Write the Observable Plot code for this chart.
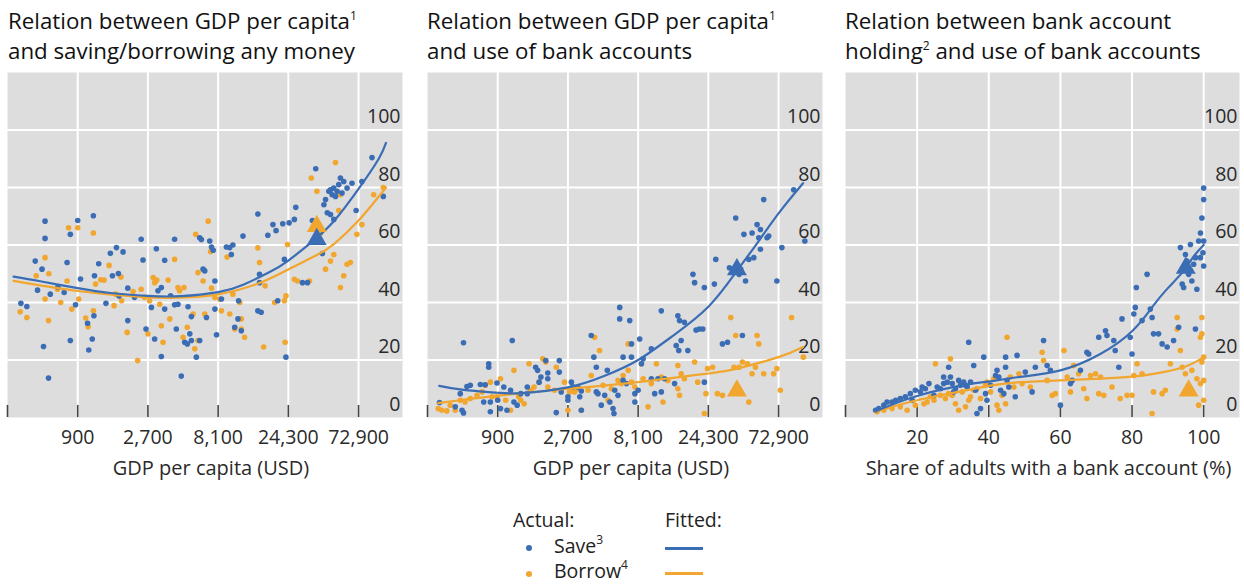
<!DOCTYPE html>
<html><head><meta charset="utf-8">
<script src="https://cdn.jsdelivr.net/npm/d3@7"></script>
<script src="https://cdn.jsdelivr.net/npm/@observablehq/plot@0.6"></script>
<style>
body{margin:0;background:#fff;font-family:"Open Sans",sans-serif;color:#1a1a1a}
#wrap{position:relative;width:1244px;height:586px;overflow:hidden}
.title{position:absolute;top:6px;font-size:22.3px;line-height:30px;white-space:nowrap;color:#111}
.title sup,.leg sup{font-size:12px;line-height:0;vertical-align:9px}
.panel{position:absolute;top:60px}
.leg{position:absolute;font-size:19.5px;line-height:18px;white-space:nowrap;color:#222}
.dot{position:absolute;width:6px;height:6px;border-radius:50%}
.ln{position:absolute;height:2.5px;width:38px}
</style>
</head><body>
<div id="wrap">
  <div class="title" style="left:8px">Relation between GDP per capita<sup>1</sup><br>and saving/borrowing any money</div>
  <div class="title" style="left:427px">Relation between GDP per capita<sup>1</sup><br>and use of bank accounts</div>
  <div class="title" style="left:845px">Relation between bank account<br>holding<sup>2</sup> and use of bank accounts</div>
  <div id="p1" class="panel" style="left:0px"></div>
  <div id="p2" class="panel" style="left:420px"></div>
  <div id="p3" class="panel" style="left:838px"></div>
  <div class="leg" style="left:513px;top:511px">Actual:</div>
  <div class="leg" style="left:665px;top:511px">Fitted:</div>
  <div class="dot" id="dSave" style="left:526px;top:545px"></div>
  <div class="leg" style="left:554px;top:537px">Save<sup>3</sup></div>
  <div class="ln" id="lSave" style="left:665px;top:547px"></div>
  <div class="dot" id="dBorrow" style="left:526px;top:571px"></div>
  <div class="leg" style="left:554px;top:562px">Borrow<sup>4</sup></div>
  <div class="ln" id="lBorrow" style="left:665px;top:572px"></div>
</div>
<script>
const BLUE = "#3b6db5", ORANGE = "#f1a62f";

// ---- shared axes ----
const yTicks = [0, 20, 40, 60, 80, 100];
const gdpDomain = [300, 145000];
const gdpTicks = [900, 2700, 8100, 24300, 72900];
const gdpTickLabels = ["900", "2,700", "8,100", "24,300", "72,900"];
const shareDomain = [0, 110];
const shareTicks = [20, 40, 60, 80, 100];
const shareTickLabels = ["20", "40", "60", "80", "100"];
const gdpLabel = "GDP per capita (USD)";
const shareLabel = "Share of adults with a bank account (%)";

// ---- panel 1: GDP per capita vs saving / borrowing ----
const p1Save = [[370,39.7],[406,38.6],[463,54.4],[480,44.3],[515,51.6],[540,68.3],[540,62.3],[586,42.9],[527,24.7],[570,13.7],[660,45.4],[728,43.5],[762,53.9],[802,63.7],[900,68.5],[802,26.8],[870,39.2],[940,48.2],[1050,32.8],[1070,23.5],[1130,27.3],[1150,70.2],[1160,35.4],[1170,49.3],[1250,53.5],[1400,39.7],[1500,57.1],[1550,49.3],[1650,59.1],[1700,50.1],[1720,42.3],[1830,57.6],[1970,45],[1970,33.7],[2190,41.8],[2430,62],[2500,54.8],[2620,30.8],[2850,38.3],[3000,27.3],[3080,58.7],[3160,44.1],[3330,45.2],[3330,21.2],[3510,54.7],[3510,37.7],[3850,42.3],[4100,62],[4100,39.2],[4210,30.8],[4320,39.4],[4550,14.4],[4800,26.2],[5000,25.6],[5060,38.5],[5330,35.1],[5200,29.1],[5330,26.8],[5760,21],[6070,62.5],[6230,61.9],[6400,51.6],[6570,51],[6750,34.8],[6070,26.8],[7100,61.4],[7300,59.3],[7500,58.2],[7700,47.5],[7700,37.7],[7900,28.8],[8530,41.2],[9220,59.3],[9710,59.1],[9960,56.7],[10200,60],[10500,31.4],[11050,34.3],[11150,40.6],[11640,30.2],[11950,63.1],[15080,70.8],[15480,49.8],[15080,37.1],[15880,36.6],[15480,46.9],[17630,63.4],[19100,67.1],[20050,65],[20580,40.6],[22270,67.4],[22840,55],[23400,21],[24600,67.7],[26700,68.9],[27300,73.1],[30300,46.9],[32800,46.9],[37300,86.5],[41400,57],[42400,74],[43500,75.8],[45800,78.7],[47000,79.2],[48200,77.5],[49500,79.8],[50800,76.9],[52100,78.7],[53500,81],[54900,83.3],[56300,78.1],[57800,82.1],[60900,79.8],[65800,81.5],[70200,72],[76800,82.1],[90000,90.4],[107400,76.9],[49500,68.9],[44700,71.2],[47000,70.6],[35400,68.5]];
const p1Borrow = [[366,36.8],[406,34.8],[470,49.3],[540,55.6],[573,50],[540,41.2],[570,33.7],[655,44.6],[690,40],[762,47.5],[780,66],[900,66],[820,37.7],[915,41.2],[1020,34.6],[1060,31.6],[1150,64.2],[1150,37.1],[1190,46.4],[1290,47.9],[1360,47.8],[1470,52.9],[1630,42.9],[1590,38.9],[1770,48.9],[1790,40.6],[1950,29.6],[2140,43.8],[2300,19.8],[2430,44.6],[2560,41.8],[2700,29.1],[2770,40.6],[2930,48.7],[3000,46.9],[3100,47.8],[3250,39.4],[3330,31.9],[3420,26.2],[3700,47.8],[3800,34.3],[4100,55],[4320,45.2],[4430,44.1],[4680,27.9],[4750,45.2],[5000,31.4],[5470,36],[5620,23.9],[5700,63.7],[5910,50.4],[6400,47.5],[6570,36],[5910,26.8],[6930,68.3],[7200,57.7],[7300,45],[7700,41.8],[8300,41.2],[8530,37.1],[9320,55.8],[10200,42.9],[9710,36],[10500,30.8],[11350,40],[11640,30.8],[11640,34.3],[12250,27.9],[15080,59],[15480,53.9],[16900,45.8],[19600,40],[16500,24.5],[22840,40.6],[23400,42.3],[23100,26.2],[24000,60.2],[26700,48.1],[28000,47.5],[33800,47.5],[34800,83.3],[38000,78.7],[50800,88.7],[54900,77.5],[53500,72],[92400,77.5],[107400,80],[76800,67.1],[71000,63.7],[64100,53.9],[60900,53.3],[54900,45.2],[57800,49.3],[49500,56.7],[43500,51.6],[47000,54.4],[40300,64.2]];
const p1SaveFit = [[330,49],[500,47.4],[900,45],[1500,43.3],[2700,42.3],[4500,42.2],[8100,43.6],[12000,46.2],[18000,50.5],[24300,54.6],[36000,61.5],[50000,68.5],[72900,79.5],[100000,90],[112000,95.5]];
const p1BorrowFit = [[330,47.5],[900,44],[2700,41.8],[5000,41.8],[8100,42.8],[15000,46.5],[24300,51.5],[38000,56.5],[50000,60.5],[72900,68.5],[112000,80]];
const p1SaveTri = [[37900,62]];
const p1BorrowTri = [[37900,66.5]];

// ---- panel 2: GDP per capita vs use of bank accounts ----
const p2Save = [[527,26],[362,5.2],[463,3.7],[515,2.5],[527,1.6],[501,8.3],[556,10.8],[586,11.2],[686,11.5],[740,11.4],[782,17.5],[782,18.7],[723,5.4],[802,5.4],[802,2],[890,12],[900,6],[940,3.1],[990,10.6],[1040,2.5],[1100,9.5],[1130,26.8],[1160,5.4],[1220,4.3],[1290,8.3],[1430,8.3],[1430,10.6],[1630,17.5],[1680,16.4],[1720,12.3],[1770,14.1],[1910,19.8],[1970,15.5],[1970,13.5],[2250,1.7],[2360,19.8],[2360,15.8],[2430,8.9],[2700,6],[2700,7.2],[2850,12.3],[2930,10.6],[3160,10.6],[3250,7.2],[3330,9.2],[3330,2.5],[3890,28.5],[4050,21],[4210,17.5],[4210,8.9],[4320,8.3],[4550,4.3],[4800,7.7],[5000,16.4],[5200,5.4],[5470,3.1],[5550,1.4],[5620,9.5],[5910,7.7],[6070,38.3],[6070,34.3],[6400,21],[6400,12.9],[6750,11.8],[7100,33.7],[7300,21],[7300,25.6],[7700,8.3],[7700,5.4],[8100,9.5],[8300,27.3],[8530,18.7],[8760,20.4],[9960,23.9],[9960,13.5],[10500,8.3],[11050,13.5],[11640,37.1],[11640,8.9],[12250,13.5],[14330,11.8],[14700,25],[15080,35.4],[15300,23.3],[15480,33.7],[15880,26.8],[16700,33.1],[17630,23.3],[19100,49.8],[19600,46.9],[20050,30.4],[21100,30.8],[22270,30.8],[22840,12.3],[22840,45.2],[26700,46.4],[27300,55],[30300,25.6],[32800,26.2],[33800,52.1],[37300,69.4],[39300,49.8],[40300,51.6],[41400,28.5],[42400,63.7],[43500,47.5],[45800,55],[48200,64.2],[49500,55.6],[52100,67.1],[53500,62.5],[54900,58.5],[57800,75.8],[60900,62.5],[62500,63.1],[71000,47.5],[76800,59.1],[92400,79.2],[110000,61.4],[54900,65.4]];
const p2Borrow = [[355,3.1],[375,2.5],[406,2.3],[428,4.3],[463,2.5],[501,6],[540,5.4],[586,6.6],[651,7.7],[705,8.9],[740,11.2],[802,12.3],[823,7.2],[890,7.2],[940,13.5],[1020,6],[1100,2.5],[1160,16.4],[1250,7.2],[1290,6],[1360,4.8],[1470,18.7],[1510,9.5],[1590,10.6],[1720,12.3],[1820,20.4],[1910,19.3],[1970,10.6],[2190,9.5],[2250,17.5],[2560,12.3],[2700,2.5],[2770,8.9],[3000,8.9],[3160,10],[3330,2.5],[3700,9.5],[3890,14.6],[4100,27.9],[4430,23.3],[4680,11.2],[5060,6],[5330,10],[5910,12.9],[6230,11.8],[6400,14.6],[6930,25.6],[6930,16.4],[7300,12.3],[7700,10.6],[8530,18.7],[8760,13.5],[9470,3.7],[9960,11.8],[10780,18.7],[11640,14.1],[11950,5.4],[12900,12.9],[15080,10],[15080,18.1],[15480,7.7],[15880,15.2],[16700,13.5],[19600,19.3],[20580,12.3],[22840,1.4],[23400,8.3],[24000,17],[26000,17.5],[28000,8.3],[30300,7.7],[34500,34.8],[36300,17.5],[37300,28.5],[39300,17.5],[41400,19.3],[44700,18.7],[45800,5.4],[48200,15.2],[50800,17.5],[52100,28.5],[53500,25.6],[57800,15.2],[67500,15.2],[71000,17],[75000,9.5],[89400,34.8],[107400,21]];
const p2SaveFit = [[360,11],[527,9.6],[900,8.6],[1300,8.5],[2700,10.5],[4800,14.5],[8100,20],[13600,28],[24300,38.5],[38000,51],[49500,59],[72900,71],[107000,81.5]];
const p2BorrowFit = [[355,5],[900,7.6],[2700,10],[8100,12.3],[24300,15.3],[38000,17],[72900,21],[107000,24.5]];
const p2SaveTri = [[38000,51.5]];
const p2BorrowTri = [[38000,9.3]];

// ---- panel 3: bank account holding vs use of bank accounts ----
const p3Save = [[8.4,2.5],[9.3,3.1],[10.7,4.3],[11.6,5.4],[13,5.4],[14,6],[15.3,6.6],[16.7,7.2],[18.1,8.3],[18.6,6],[19.5,9.5],[20.9,8.9],[21.4,10.6],[22.3,10],[23.3,11.8],[24.7,7.7],[25.6,10.6],[26.5,10],[27.4,11.8],[27.4,14.1],[28.4,12.3],[28.8,17.5],[29.3,14.1],[29.8,11.8],[30.2,8.9],[30.7,10],[31.6,12.9],[32.1,11.2],[32.6,11.8],[33,12.3],[33.5,11.2],[34,10.6],[34.4,26.2],[34.9,12.3],[35.8,18.1],[36.3,9.5],[36.7,1.4],[37.7,3.1],[38.6,21],[39.1,8.3],[39.5,6],[40.5,11.2],[41.9,14.6],[42.3,16.4],[42.8,14.1],[43.3,9.5],[44.2,8.3],[44.7,21],[44.7,17.5],[45.1,12.9],[45.6,10.6],[47.4,7.2],[47.9,21.6],[50.2,15.8],[52.1,8.9],[53,17.5],[55.3,26.8],[56.3,18.1],[57.2,16.4],[60,4.3],[62.8,11.8],[63.3,12.9],[65.6,16.4],[67.4,22.7],[67.9,22.1],[70.7,27.9],[72.6,30.2],[73,28.5],[74.9,26.8],[75.3,23.3],[76.3,17.5],[77.2,34.3],[79.5,27.9],[80,22.1],[80.5,36],[80.9,38.3],[81.2,45.2],[82.8,33.7],[84.2,49.8],[85.1,37.7],[85.6,34.8],[86,29.1],[87.4,29.1],[88.4,25.6],[89.8,24.5],[91.6,26.8],[93,31.4],[93.5,59.1],[94,46.4],[94.4,45.2],[94.9,56.7],[95.3,54.4],[95.8,49.8],[96.3,60.2],[96.7,47.5],[97.2,53.3],[97.7,55.6],[97.7,30.8],[98.1,44.6],[98.6,61.4],[99.1,55.6],[99.1,64.2],[99.5,69.4],[100,75.8],[100,79.8],[100,61.4],[99.8,57.3],[100,52.7]];
const p3Borrow = [[8.8,2],[10.7,2.5],[13,3.1],[15.3,3.7],[17.2,2.5],[19.5,4.3],[21.9,4.8],[22.8,5.4],[23.7,7.2],[24.7,6],[25.1,18.7],[26.5,7.7],[27.9,6.6],[28.8,8.3],[29.3,20.4],[29.8,7.7],[30.7,4.8],[31.6,2.5],[32.6,8.9],[33.5,3.7],[34.4,6],[34.9,7.2],[35.8,9.5],[36.7,10],[37.7,6.6],[39.1,11.2],[39.5,12.3],[40.5,8.9],[41.4,13.5],[42.3,4.3],[42.8,2.5],[43.7,7.7],[44.7,4.8],[45.1,27.9],[46,14.1],[47,10.6],[48.4,15.2],[49.3,11.8],[51.6,10.6],[54.9,22.7],[55.3,19.8],[56.3,12.9],[57.7,7.7],[58.6,8.3],[61,23.3],[61.9,14.1],[62.8,8.9],[63.7,18.1],[65.1,15.2],[66.5,10],[67.4,6.6],[68.4,14.6],[69.8,15.2],[70.7,8.3],[71.2,14.1],[72.1,7.7],[74.4,10.6],[76.7,6.6],[78.6,7.7],[80,7.7],[80.5,14.6],[81.4,18.7],[82.8,15.2],[85.6,1.4],[86,8.9],[88.4,8.3],[89.3,9.5],[90.7,18.7],[92.6,34.8],[92.6,30.8],[93.5,23.3],[94,17.5],[94.9,15.2],[96.7,16.4],[98.1,13.5],[98.6,4.3],[99.1,11.8],[99.1,27.9],[99.5,34.8],[99.5,29.1],[100,21],[99.5,19.3],[100,12.9],[100,6]];
const p3SaveFit = [[8.4,2.2],[20,7.5],[34,11.5],[40,12.5],[48,14],[60,16.4],[71,22],[80,30],[86,39],[90,45],[94.4,51],[97.2,56],[100,60]];
const p3BorrowFit = [[8.4,2],[20,6],[34,9.5],[40,11],[48,12.2],[60,12.9],[71,13.5],[80,14.2],[86,15.2],[94.4,17.5],[100,21]];
const p3SaveTri = [[95,52]];
const p3BorrowTri = [[95.8,9.3]];

function panel(o) {
  const ticks = o.xTicks.map((v, i) => ({v, label: o.xTickLabels[i]}));
  const tickMarks = [o.xDomain[0], ...o.xTicks];
  return Plot.plot({
    width: o.width, height: 427,
    marginTop: 12, marginBottom: 70, marginLeft: 7, marginRight: o.marginRight,
    x: {type: o.xType, domain: o.xDomain, axis: null},
    y: {domain: [0, 120], axis: null},
    style: {background: "transparent", fontFamily: "Open Sans, sans-serif", overflow: "visible"},
    marks: [
      Plot.frame({fill: "#dddddd", stroke: null}),
      Plot.gridX(o.xTicks, {stroke: "white", strokeOpacity: 1, strokeWidth: 2}),
      Plot.gridY(yTicks.slice(1), {stroke: "white", strokeOpacity: 1, strokeWidth: 2}),
      Plot.ruleX(tickMarks, {y1: 0, y2: 4.2, stroke: "#444", strokeWidth: 1.6}),
      Plot.text(yTicks, {y: d => d, text: d => String(d), frameAnchor: "right", textAnchor: "end", dx: -2, dy: -13, fontSize: 19.5, fill: "#2a2a2a"}),
      Plot.text(ticks, {x: "v", text: "label", frameAnchor: "bottom", lineAnchor: "middle", dy: 20, fontSize: 19.5, fill: "#2a2a2a"}),
      Plot.text([o.xLabel], {text: d => d, frameAnchor: "bottom", lineAnchor: "middle", dy: 51, dx: 6, fontSize: 20, fill: "#2a2a2a"}),
      Plot.dot(o.borrow, {x: d => d[0], y: d => d[1], r: 2.8, fill: ORANGE}),
      Plot.dot(o.save, {x: d => d[0], y: d => d[1], r: 2.8, fill: BLUE}),
      Plot.line(o.borrowFit, {x: d => d[0], y: d => d[1], stroke: ORANGE, strokeWidth: 2.2, curve: "natural"}),
      Plot.line(o.saveFit, {x: d => d[0], y: d => d[1], stroke: BLUE, strokeWidth: 2.2, curve: "natural"}),
      Plot.dot(o.borrowTri, {x: d => d[0], y: d => d[1], symbol: "triangle", r: 7.4, fill: ORANGE}),
      Plot.dot(o.saveTri, {x: d => d[0], y: d => d[1], symbol: "triangle", r: 7.4, fill: BLUE})
    ]
  });
}

document.getElementById("p1").append(panel({width: 420, marginRight: 18, xType: "log", xDomain: gdpDomain, xTicks: gdpTicks, xTickLabels: gdpTickLabels, xLabel: gdpLabel,
  save: p1Save, borrow: p1Borrow, saveFit: p1SaveFit, borrowFit: p1BorrowFit, saveTri: p1SaveTri, borrowTri: p1BorrowTri}));
document.getElementById("p2").append(panel({width: 420, marginRight: 18, xType: "log", xDomain: gdpDomain, xTicks: gdpTicks, xTickLabels: gdpTickLabels, xLabel: gdpLabel,
  save: p2Save, borrow: p2Borrow, saveFit: p2SaveFit, borrowFit: p2BorrowFit, saveTri: p2SaveTri, borrowTri: p2BorrowTri}));
document.getElementById("p3").append(panel({width: 406, marginRight: 5, xType: "linear", xDomain: shareDomain, xTicks: shareTicks, xTickLabels: shareTickLabels, xLabel: shareLabel,
  save: p3Save, borrow: p3Borrow, saveFit: p3SaveFit, borrowFit: p3BorrowFit, saveTri: p3SaveTri, borrowTri: p3BorrowTri}));

document.getElementById("dSave").style.background = BLUE;
document.getElementById("dBorrow").style.background = ORANGE;
document.getElementById("lSave").style.background = BLUE;
document.getElementById("lBorrow").style.background = ORANGE;
</script>
</body></html>
